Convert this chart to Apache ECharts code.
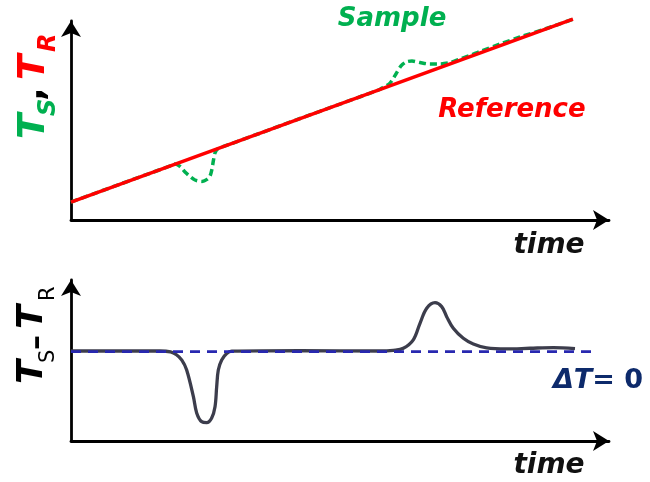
<!DOCTYPE html>
<html>
<head>
<meta charset="utf-8">
<script src="https://cdn.jsdelivr.net/npm/echarts@6/dist/echarts.min.js"></script>
<style>
  html, body { margin: 0; padding: 0; background: #fff; }
  #chart { width: 650px; height: 482px; }
</style>
</head>
<body>
<div id="chart"></div>
<script>
// top panel: temperatures vs time (time 0..100, temp 0..100)
const refTime = [0, 93.3]
const refTemp = [9, 100.9]
const sampleTime = [0, 9.1, 15, 17.5, 18.6, 19.33, 20.26, 21.19, 22.12, 23.05, 24.35, 25.28, 25.84, 26.2, 26.49, 26.77, 27.32,
  28.5, 31, 35, 42.57, 50, 54, 56.5, 57.4, 58.0, 59.3, 60.4, 61.34, 62.27, 63.38, 64.87, 66.73, 68.59, 70.45, 72.3, 74.16,
  76.02, 79.74, 83.46, 88.1, 93.3]
const sampleTemp = [9, 18.0, 23.77, 26.24, 27.32, 28.1, 26.9, 24.1, 21.9, 20.1, 19.4, 20.4, 22.1, 25.6, 30.2, 33.7, 35.9,
  37.07, 39.53, 43.47, 51.0, 58.25, 62.19, 64.65, 65.6, 66.6, 68.8, 73.4, 77.4, 79.4, 79.9, 79.1, 78.4, 78.4, 79.1, 80.9, 82.7,
  84.7, 88.4, 91.96, 95.98, 100.9]

// bottom panel: temperature difference Ts - Tr
const dtaTime = [0, 16.54, 18.5, 19.6, 20.6, 21.5, 22.75, 23.36, 24.29, 25.22, 26.15, 26.77, 27.08, 27.38, 28.01, 28.94, 29.87,
  42.57, 57.43, 59.91, 61.77, 63.62, 64.87, 66.12, 67.66, 68.9, 69.83, 71.06, 72.92, 74.78, 77.27, 80.98, 85.32, 89.65, 93.68]
const dtaDiff = [0.3, 0.3, -0.2, -1.8, -4.8, -10.3, -25.2, -34.3, -39.2, -39.7, -37.1, -30.8, -19.6, -10.3, -4.7, -1.1, 0.2,
  0.5, 0.3, 0.7, 1.8, 6.5, 15.8, 24.2, 27.3, 25.1, 19.5, 13.0, 7.4, 4.2, 2.0, 1.45, 1.85, 2.2, 1.6]
const zeroTime = [0, 97.96]
const zeroDiff = [0, 0]

const pairs = (xs, ys) => xs.map((x, i) => [x, ys[i]])

const FONT = '"DejaVu Sans", Verdana, sans-serif'
const GREEN = '#00b050'
const RED = '#ff0000'

const axisLine = {
  show: true,
  onZero: false,
  symbol: ['none', 'arrow'],
  symbolSize: [15, 16],
  lineStyle: { color: '#000', width: 2.8 }
}
const bareAxis = {
  type: 'value',
  axisLine: axisLine,
  axisTick: { show: false },
  axisLabel: { show: false },
  splitLine: { show: false }
}

// small helper for one piece of text inside a rotated label
const piece = (text, x, y, size, color, style, weight) => ({
  type: 'text', x: x, y: y,
  style: {
    text: text, fill: color,
    font: style + ' ' + weight + ' ' + size + 'px ' + FONT,
    align: 'left', verticalAlign: 'middle'
  }
})
const label = (text, cx, cy, size, color) => ({
  type: 'text', x: cx, y: cy,
  style: {
    text: text, fill: color,
    font: 'italic bold ' + size + 'px ' + FONT,
    align: 'center', verticalAlign: 'middle'
  }
})

const option = {
  animation: false,
  backgroundColor: '#fff',
  grid: [
    { left: 71, right: 41, top: 21, height: 199 },
    { left: 71, right: 41, top: 280, height: 161 }
  ],
  xAxis: [
    Object.assign({}, bareAxis, { gridIndex: 0, min: 0, max: 100 }),
    Object.assign({}, bareAxis, { gridIndex: 1, min: 0, max: 100 })
  ],
  yAxis: [
    Object.assign({}, bareAxis, { gridIndex: 0, min: 0, max: 100 }),
    Object.assign({}, bareAxis, { gridIndex: 1, min: -50, max: 40 })
  ],
  series: [
    {
      name: 'Sample', type: 'line', xAxisIndex: 0, yAxisIndex: 0,
      data: pairs(sampleTime, sampleTemp), smooth: 0.3, showSymbol: false, clip: false, z: 2,
      lineStyle: { color: GREEN, width: 3.5, type: [7, 4] }
    },
    {
      name: 'Reference', type: 'line', xAxisIndex: 0, yAxisIndex: 0,
      data: pairs(refTime, refTemp), showSymbol: false, clip: false, z: 3,
      lineStyle: { color: RED, width: 3.5 }
    },
    {
      name: 'dT', type: 'line', xAxisIndex: 1, yAxisIndex: 1,
      data: pairs(dtaTime, dtaDiff), smooth: 0.35, showSymbol: false, z: 2,
      lineStyle: { color: '#3c3d4c', width: 3.3 }
    },
    {
      // dashed zero line sits on top of the curve
      name: 'zero', type: 'line', xAxisIndex: 1, yAxisIndex: 1,
      data: pairs(zeroTime, zeroDiff), showSymbol: false, z: 4,
      lineStyle: { color: '#2828b0', width: 2.8, type: [10, 7] }
    }
  ],
  graphic: [
    label('Sample', 392, 19, 26, GREEN),
    label('Reference', 512, 110, 26, RED),
    label('time', 549, 246, 28, '#111'),
    label('time', 549, 466, 28, '#111'),
    {
      type: 'text', x: 598, y: 381,
      style: {
        text: '{i|ΔT}{n|= 0}',
        align: 'center', verticalAlign: 'middle',
        rich: {
          i: { fill: '#0d2a6b', font: 'italic bold 27px ' + FONT },
          n: { fill: '#0d2a6b', font: 'bold 27px ' + FONT }
        }
      }
    },
    {
      // T_S, T_R  (rotated, reads bottom to top)
      type: 'group', x: 47, y: 139, rotation: Math.PI / 2,
      children: [
        piece('T', 0, -13, 37, GREEN, 'italic', 'bold'),
        piece('S', 23, 2, 24, GREEN, 'italic', 'bold'),
        piece(',', 38, -13, 36, '#000', 'normal', 'bold'),
        piece('T', 59, -13, 37, RED, 'italic', 'bold'),
        piece('R', 87, 2, 24, RED, 'italic', 'bold')
      ]
    },
    {
      // T_S - T_R
      type: 'group', x: 45, y: 384, rotation: Math.PI / 2,
      children: [
        piece('T', 0, -12, 35, '#000', 'italic', 'bold'),
        piece('S', 21, 4, 21, '#000', 'normal', 'normal'),
        piece('\u2013', 34, -8, 30, '#000', 'normal', 'bold'),
        piece('T', 55, -12, 35, '#000', 'italic', 'bold'),
        piece('R', 83, 4, 21, '#000', 'normal', 'normal')
      ]
    }
  ]
}

const chart = echarts.init(document.getElementById('chart'))
chart.setOption(option)
</script>
</body>
</html>
